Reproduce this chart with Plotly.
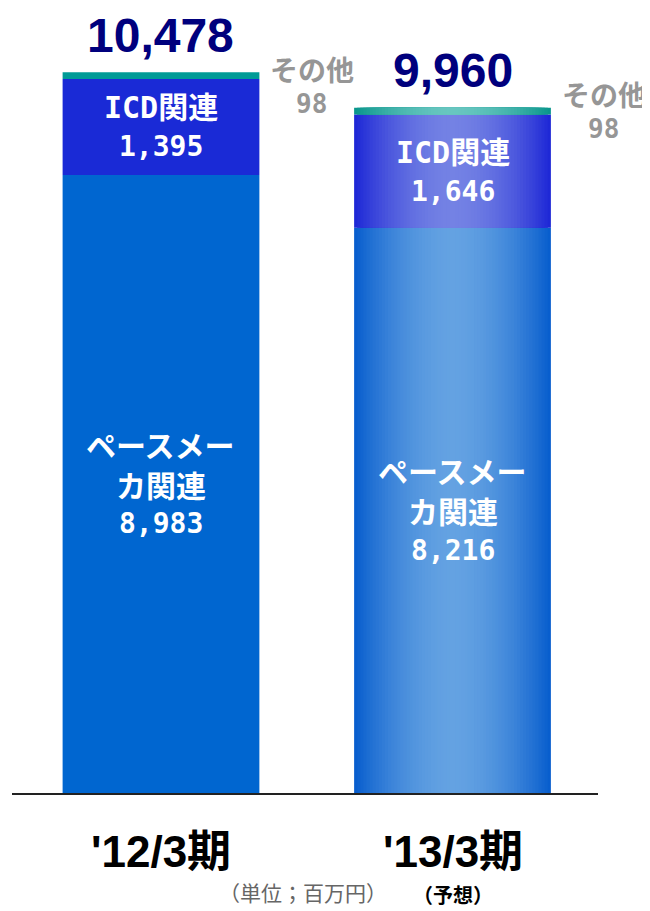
import plotly.graph_objects as go

# ---- data ----
categories = ["'12/3期", "'13/3期"]
pacemaker = [8983, 8216]
icd = [1395, 1646]
other = [98, 98]
totals = [10478, 9960]
pacemaker_label = ["ペースメー", "カ関連"]
icd_label = "ICD関連"
other_label = "その他"
forecast_note = "（予想）"
unit_note = "（単位；百万円）"

# ---- styles ----
BAR_W = 0.675
solid = {"pm": (0, 102, 208), "icd": (26, 42, 214), "oth": (0, 155, 150)}
grad = {
    "pm": ((8, 94, 206), (100, 162, 226)),
    "icd": ((30, 40, 214), (116, 130, 228)),
    "oth": ((10, 150, 140), (104, 198, 192)),
}
N_STEPS = 32

def rgb(c):
    return "rgb(%d,%d,%d)" % tuple(int(round(v)) for v in c)

def lerp(a, b, t):
    return tuple(a[i] + (b[i] - a[i]) * t for i in range(3))

fig = go.Figure()

bases_pm = [0, 0]
bases_icd = pacemaker
bases_oth = [pacemaker[i] + icd[i] for i in range(2)]
segs = [("pm", pacemaker, bases_pm), ("icd", icd, bases_icd), ("oth", other, bases_oth)]

# bar 1: solid colours
for key, vals, bases in segs:
    fig.add_trace(go.Bar(x=[categories[0]], y=[vals[0]], base=[bases[0]], width=BAR_W,
                         marker=dict(color=rgb(solid[key]), line=dict(width=0)),
                         opacity=1, hoverinfo="skip", showlegend=False))

# bar 2: horizontal gradient made of nested bars
for key, vals, bases in segs:
    edge, centre = grad[key]
    for i in range(N_STEPS):
        d = 1 - i / N_STEPS
        t = d ** 1.8
        col = lerp(centre, edge, t)
        fig.add_trace(go.Bar(x=[categories[1]], y=[vals[1]], base=[bases[1]], width=BAR_W * d,
                             marker=dict(color=rgb(col), line=dict(width=0)),
                             opacity=1, hoverinfo="skip", showlegend=False))

ann = []
JP = "Noto Sans CJK JP"
MONO = "DejaVu Sans Mono, Noto Sans CJK JP"
for i, cat in enumerate(categories):
    # total
    ann.append(dict(x=cat, y=totals[i], text=f"{totals[i]:,}", showarrow=False, yanchor="middle",
                    yshift=37, font=dict(family="Liberation Sans", size=48, color="#00007D", weight="bold")))
    # pacemaker
    mid = pacemaker[i] / 2
    ann.append(dict(x=cat, y=mid, text=pacemaker_label[0], showarrow=False, yshift=40,
                    font=dict(family=JP, size=30, color="white", weight="bold")))
    ann.append(dict(x=cat, y=mid, text=pacemaker_label[1], showarrow=False, yshift=0,
                    font=dict(family=JP, size=30, color="white", weight="bold")))
    ann.append(dict(x=cat, y=mid, text=f"{pacemaker[i]:,}", showarrow=False, yshift=-40,
                    font=dict(family=MONO, size=28, color="white", weight="bold")))
    # icd
    mid = pacemaker[i] + icd[i] / 2
    ann.append(dict(x=cat, y=mid, text=icd_label, showarrow=False, yshift=19,
                    font=dict(family=MONO, size=30, color="white", weight="bold")))
    ann.append(dict(x=cat, y=mid, text=f"{icd[i]:,}", showarrow=False, yshift=-20,
                    font=dict(family=MONO, size=28, color="white", weight="bold")))
    # other
    top = bases_oth[i] + other[i]
    ys = [(3, -32), (14, -21)][i]
    ann.append(dict(x=cat, y=top, text=other_label, showarrow=False, xshift=151, yshift=ys[0],
                    font=dict(family=JP, size=28, color="#969696", weight="bold")))
    ann.append(dict(x=cat, y=top, text=f"{other[i]}", showarrow=False, xshift=151, yshift=ys[1],
                    font=dict(family=MONO, size=26, color="#969696", weight="bold")))
    # category label
    ann.append(dict(x=cat, y=0, text=cat, showarrow=False, yshift=-58,
                    font=dict(family="Liberation Sans, Noto Sans CJK JP", size=44, color="black", weight="bold")))

ann.append(dict(x=categories[1], y=0, text=forecast_note, showarrow=False, yshift=-101,
                font=dict(family=JP, size=20, color="black", weight="bold")))
ann.append(dict(x=0.4966, y=-0.128, xref="paper", yref="paper", text=unit_note, showarrow=False,
                xanchor="center", yanchor="middle",
                font=dict(family=JP, size=21, color="#666666")))

# the page body adds an 8px margin, so the figure is 8px smaller and shifted
fig.update_layout(
    width=642, height=903,
    margin=dict(l=4, r=52, t=12, b=118),
    barmode="overlay",
    plot_bgcolor="white", paper_bgcolor="white",
    showlegend=False,
    annotations=ann,
    xaxis=dict(range=[-0.5111, 1.4991], showticklabels=False, ticks="", showgrid=False,
               showline=True, linecolor="#222222", linewidth=2, zeroline=False, fixedrange=True),
    yaxis=dict(range=[0, 11235], visible=False, showgrid=False, zeroline=False, fixedrange=True),
)

fig.write_html("out.html")
